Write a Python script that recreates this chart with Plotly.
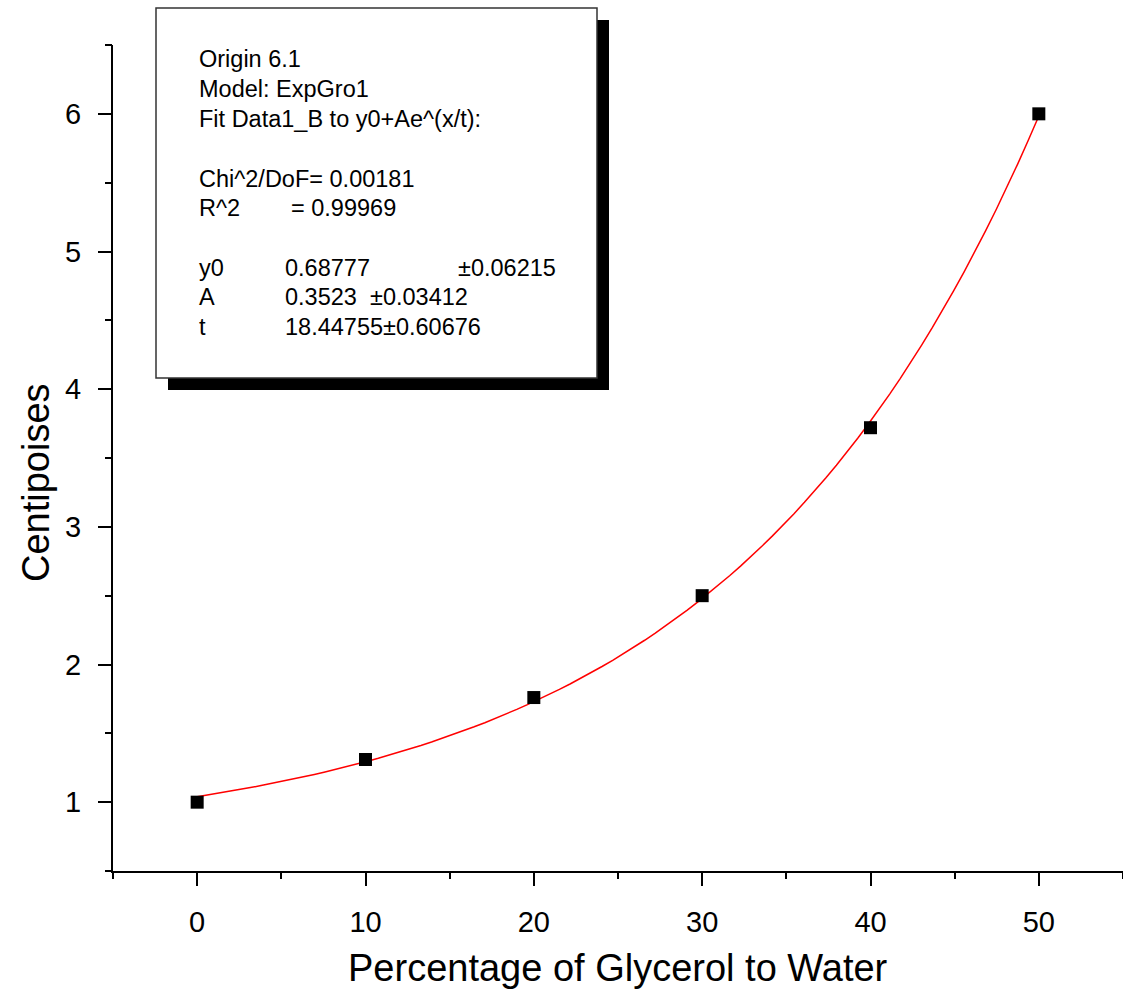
import numpy as np
import plotly.graph_objects as go

# Measured viscosity of glycerol/water mixtures
glycerol_pct = [0, 10, 20, 30, 40, 50]
centipoises = [1.00, 1.31, 1.76, 2.50, 3.72, 6.00]

# ExpGro1 fit parameters reported by Origin
fit_y0 = 0.68777
fit_A = 0.3523
fit_t = 18.44755

# Axis extents and tick spacing
x_range, x_step = [-5, 55], 10
y_range, y_step = [0.5, 6.5], 1

fit_x = np.linspace(0, 50, 80)
fit_y = fit_y0 + fit_A * np.exp(fit_x / fit_t)

FONT = "Liberation Sans"
CLEAR = "rgba(0,0,0,0)"
W, H = 1123, 991
ML, MR, MT, MB = 113, 0, 45, 120


def px(x):
    return (x - ML) / (W - ML - MR)


def py(y):
    return (H - MB - y) / (H - MB - MT)


fig = go.Figure()
# empty traces that anchor the tick-only axes
fig.add_trace(go.Scatter(x=[], y=[], xaxis="x2", yaxis="y2", showlegend=False, hoverinfo="skip"))
fig.add_trace(go.Scatter(x=[], y=[], xaxis="x3", yaxis="y3", showlegend=False, hoverinfo="skip"))
fig.add_trace(go.Scatter(
    x=fit_x, y=fit_y, mode="lines",
    line=dict(color="#ff0000", width=1.5), showlegend=False,
))
fig.add_trace(go.Scatter(
    x=glycerol_pct, y=centipoises, mode="markers",
    marker=dict(symbol="square", size=13, color="black", line=dict(width=0)),
    showlegend=False,
))

# main axes: line and labels
labels = dict(ticks="", showline=True, linecolor="black", linewidth=2,
              gridcolor=CLEAR, zerolinecolor=CLEAR, ticklabelstandoff=24,
              tickfont=dict(family=FONT, size=29, color="black"))
# overlay axes: long and short tick marks
long_ticks = dict(ticks="outside", ticklen=14, tickwidth=2, tickcolor="black",
                  showticklabels=False, gridcolor=CLEAR, zerolinecolor=CLEAR)
short_ticks = dict(ticks="outside", ticklen=7, tickwidth=2, tickcolor="black",
                   showticklabels=False, gridcolor=CLEAR, zerolinecolor=CLEAR)

fig.update_layout(
    xaxis=dict(range=x_range, dtick=x_step, **labels),
    yaxis=dict(range=y_range, dtick=y_step, **labels),
    xaxis2=dict(range=x_range, dtick=x_step, overlaying="x", anchor="y2", **long_ticks),
    yaxis2=dict(range=y_range, dtick=y_step, overlaying="y", anchor="x2", **long_ticks),
    xaxis3=dict(range=x_range, dtick=x_step / 2, overlaying="x", anchor="y3", **short_ticks),
    yaxis3=dict(range=y_range, dtick=y_step / 2, overlaying="y", anchor="x3", **short_ticks),
)

# Fit-results box with drop shadow
shapes = [
    dict(type="rect", xref="paper", yref="paper", x0=px(168), x1=px(609), y0=py(390), y1=py(20),
         fillcolor="black", line=dict(width=0), layer="above"),
    dict(type="rect", xref="paper", yref="paper", x0=px(156), x1=px(597), y0=py(378), y1=py(8),
         fillcolor="white", line=dict(color="#333333", width=1.5), layer="above"),
]

box_rows = [
    (197, 59, "Origin 6.1"),
    (197, 89, "Model: ExpGro1"),
    (197, 119, "Fit Data1_B to y0+Ae^(x/t):"),
    (197, 179, "Chi^2/DoF= 0.00181"),
    (197, 208, "R^2"),
    (289, 208, "= 0.99969"),
    (197, 268, "y0"),
    (283, 268, "0.68777"),
    (456, 268, "±0.06215"),
    (197, 297, "A"),
    (283, 297, "0.3523"),
    (368, 297, "±0.03412"),
    (197, 327, "t"),
    (283, 327, "18.44755±0.60676"),
]
annotations = [
    dict(xref="paper", yref="paper", x=px(x), y=py(y), text=t, showarrow=False,
         xanchor="left", yanchor="middle", font=dict(family=FONT, size=23.5, color="black"))
    for x, y, t in box_rows
]
annotations.append(dict(
    xref="paper", yref="paper", x=px(618), y=py(968), text="Percentage of Glycerol to Water",
    showarrow=False, xanchor="center", yanchor="middle",
    font=dict(family=FONT, size=38, color="black"),
))
annotations.append(dict(
    xref="paper", yref="paper", x=px(36), y=py(483), text="Centipoises", textangle=-90,
    showarrow=False, xanchor="center", yanchor="middle",
    font=dict(family=FONT, size=38, color="black"),
))

fig.update_layout(
    width=W, height=H,
    margin=dict(l=ML, r=MR, t=MT, b=MB),
    plot_bgcolor="white", paper_bgcolor="white",
    shapes=shapes, annotations=annotations,
)

fig.write_html("out.html")
